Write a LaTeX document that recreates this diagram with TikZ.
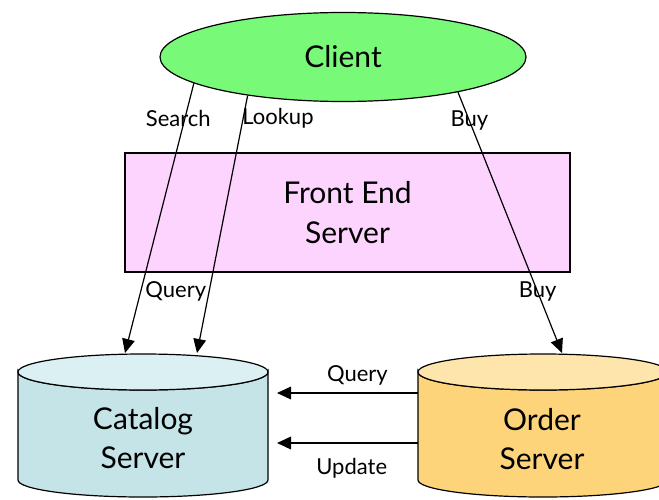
\documentclass[tikz,border=0pt]{standalone}
\usepackage{fontspec}
\setmainfont{Lato}
\usetikzlibrary{arrows.meta,calc,shapes.geometric}

\definecolor{clientgreen}{RGB}{120,250,120}
\definecolor{frontpink}{RGB}{253,212,253}
\definecolor{catbody}{RGB}{196,228,232}
\definecolor{cattop}{RGB}{219,240,243}
\definecolor{ordbody}{RGB}{254,212,122}
\definecolor{ordtop}{RGB}{254,229,172}

\begin{document}
\begin{tikzpicture}[x=0.75pt,y=-0.75pt,
  line width=0.9pt,
  big/.style={font=\fontsize{22.5}{29.5}\selectfont},
  lbl/.style={font=\fontsize{16.5}{19}\selectfont, inner sep=1pt},
  to/.style={-{Triangle[length=10.5pt,width=9.5pt]}},
  every node/.style={align=center}]

  \useasboundingbox (0,0) rectangle (659,499);

  % data stores
  \draw[fill=catbody] (18,372) -- (18,480)
    arc[start angle=180,end angle=0,x radius=125,y radius=17] -- (268,372)
    arc[start angle=0,end angle=180,x radius=125,y radius=18] -- cycle;
  \draw[fill=cattop] (143,372) ellipse[x radius=125,y radius=18];
  \draw[fill=ordbody] (418,372) -- (418,480)
    arc[start angle=180,end angle=0,x radius=125,y radius=17] -- (668,372)
    arc[start angle=0,end angle=180,x radius=125,y radius=18] -- cycle;
  \draw[fill=ordtop] (543,372) ellipse[x radius=125,y radius=18];

  \coordinate (cattop) at (143,353);
  \coordinate (ordtop) at (543,353);
  \coordinate (catright) at (277,418);
  \coordinate (ordleft) at (418,418);

  \node[draw,ellipse,fill=clientgreen,big,
        minimum width=274.5pt,minimum height=66.75pt] (client) at (343,57) {Client};
  \node[draw,fill=frontpink,big,
        minimum width=333.75pt,minimum height=89.25pt] (front) at (347.5,212.5) {Front End\\Server};
  \node[big] (catalog) at (143,438) {Catalog\\Server};
  \node[big] (order) at (542,439) {Order\\Server};

  \draw[to] (client.190.6)
    -- node[lbl,pos=0.13,xshift=-5pt]{Search}
       node[lbl,pos=0.77,anchor=west,xshift=2pt]{Query} ($(cattop)+(-18,0)$);
  \draw[to] (client.202.8)
    -- node[lbl,pos=0.09,anchor=west,xshift=-2pt]{Lookup} ($(cattop)+(54,0)$);
  \draw[to] (client.343.5)
    -- node[lbl,pos=0.11]{Buy}
       node[lbl,pos=0.765]{Buy} ($(ordtop)+(19,0)$);

  \draw[to] ($(ordleft)+(0,-25)$)
    -- node[lbl,pos=0.43,above=4pt]{Query} ($(catright)+(0,-25)$);
  \draw[to] ($(ordleft)+(0,25)$)
    -- node[lbl,pos=0.47,below=10pt]{Update} ($(catright)+(0,25)$);
\end{tikzpicture}
\end{document}
